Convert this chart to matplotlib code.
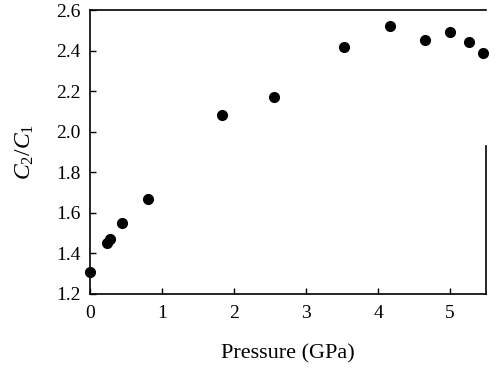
import matplotlib
matplotlib.use('Agg')
import matplotlib.pyplot as plt

# C2/C1 ratio vs pressure
pressure = [0.0, 0.23, 0.28, 0.45, 0.81, 1.83, 2.56, 3.53, 4.16, 4.65, 5.00, 5.27, 5.46]
ratio = [1.31, 1.45, 1.47, 1.55, 1.67, 2.08, 2.17, 2.42, 2.52, 2.45, 2.49, 2.44, 2.39]

xticks = [0, 1, 2, 3, 4, 5]
yticks = [1.2, 1.4, 1.6, 1.8, 2.0, 2.2, 2.4, 2.6]

plt.rcParams['font.family'] = ['Liberation Serif', 'DejaVu Serif']
plt.rcParams['mathtext.fontset'] = 'custom'
plt.rcParams['mathtext.it'] = 'Liberation Serif:italic'
plt.rcParams['mathtext.rm'] = 'Liberation Serif'

fig = plt.figure(figsize=(5, 3.72), dpi=100)
ax = fig.add_axes([0.18, 0.21, 0.792, 0.763])

ax.plot(pressure, ratio, 'o', color='black', markersize=7, clip_on=False, zorder=3)

ax.set_xlim(0, 5.5)
ax.set_ylim(1.2, 2.6)
ax.set_xticks(xticks)
ax.set_yticks(yticks)
ax.set_yticklabels(['%.1f' % v for v in yticks])
ax.tick_params(direction='in', length=4, width=1, labelsize=14, pad=7)
ax.tick_params(axis='x', pad=8)

for s in ax.spines.values():
    s.set_linewidth(1.2)
# right border only shows on the lower part in the original
ax.spines['right'].set_bounds(1.2, 1.93)

ax.set_xlabel('Pressure (GPa)', fontsize=16, labelpad=16)
ax.set_ylabel('$C_2/C_1$', fontsize=17, labelpad=14)

fig.savefig('out.png', dpi=100)
